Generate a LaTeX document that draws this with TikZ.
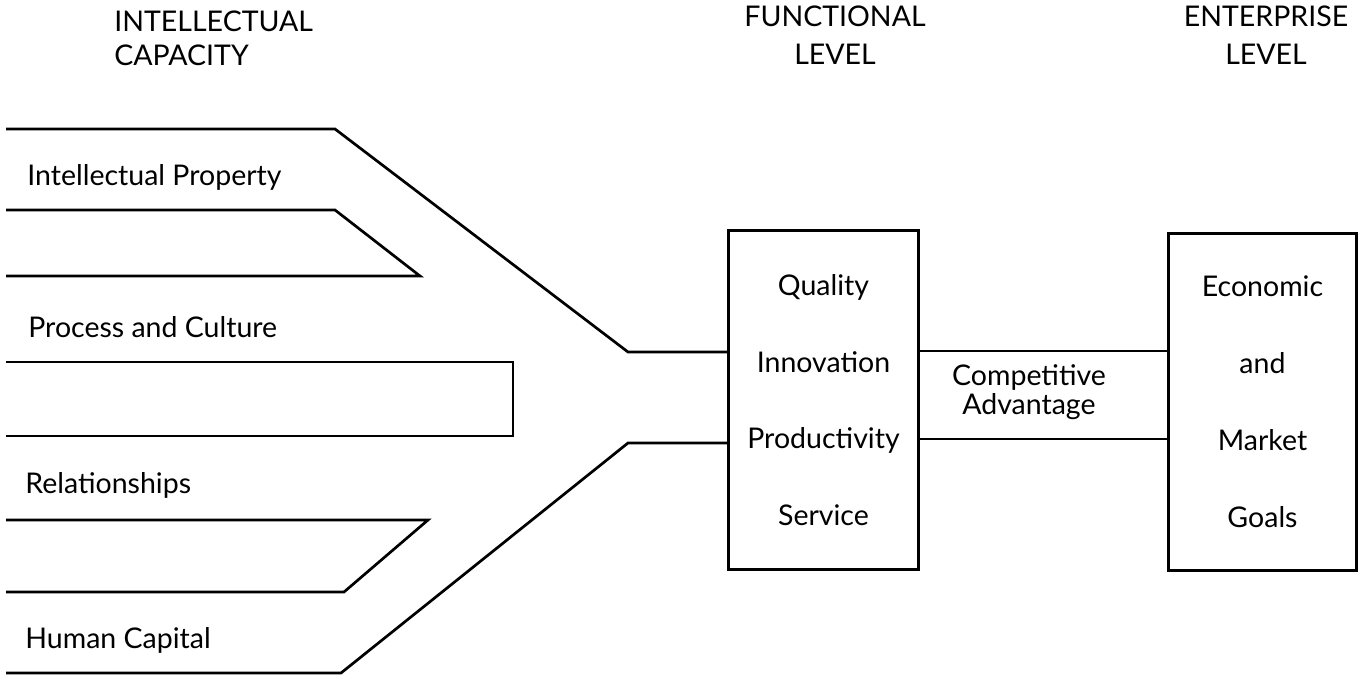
\documentclass[tikz,border=0pt]{standalone}
\usepackage{fontspec}
\setmainfont{Lato}
\usetikzlibrary{positioning}

\begin{document}
\begin{tikzpicture}[
        x=1pt,y=-1pt,line width=2.7pt,
        every node/.style={inner sep=0pt,font=\fontsize{28.5}{38}\selectfont},
        levelbox/.style={draw,align=center,font=\fontsize{28.5}{76.5}\selectfont},
        heading/.style={anchor=north,align=center},
        lefttext/.style={anchor=base west}
        ]
        \useasboundingbox (0,0) rectangle (1361,677);

        % headings
        \node[heading,anchor=north west,align=left] (hcap) at (113,10) {INTELLECTUAL\\[-4pt]CAPACITY};
        \node[heading]                  (hfun) at (835,5)    {FUNCTIONAL\\LEVEL};
        \node[heading]                  (hent) at (1266,5)   {ENTERPRISE\\LEVEL};

        % the two level boxes
        \node[levelbox,minimum width=190pt,minimum height=339pt] (fun) at (823.5,400)
                {Quality\\Innovation\\Productivity\\Service};
        \node[levelbox,minimum width=188pt,minimum height=337pt,
              font=\fontsize{28.5}{77}\selectfont] (ent) at (1262.5,402)
                {Economic\\and\\Market\\Goals};

        % intellectual capacity channels
        \node[lefttext] (ip)  at (26,185) {Intellectual Property};
        \node[lefttext] (pc)  at (27,337) {Process and Culture};
        \node[lefttext] (rel) at (24,493) {Relationships};
        \node[lefttext] (hc)  at (24,648) {Human Capital};

        \coordinate (jtop) at (628,352);
        \coordinate (jbot) at (628,443);

        \draw (6,129) -- (335,129) -- (jtop) -- (fun.west |- jtop);
        \draw (6,210) -- (335,210) -- (420,276) -- (6,276);
        \draw (6,362) -- (513,362) -- (513,436) -- (6,436);
        \draw (6,520) -- (428,520) -- (344,592) -- (6,592);
        \draw (6,673) -- (341,673) -- (jbot) -- (fun.west |- jbot);

        % competitive advantage link
        \draw ([yshift=49pt]fun.east) -- ([yshift=49pt]fun.east -| ent.west);
        \draw ([yshift=-39pt]fun.east) -- ([yshift=-39pt]fun.east -| ent.west);
        \node[heading,font=\fontsize{28.5}{29.5}\selectfont] (adv) at (1029,363)
                {Competitive\\Advantage};
\end{tikzpicture}
\end{document}
